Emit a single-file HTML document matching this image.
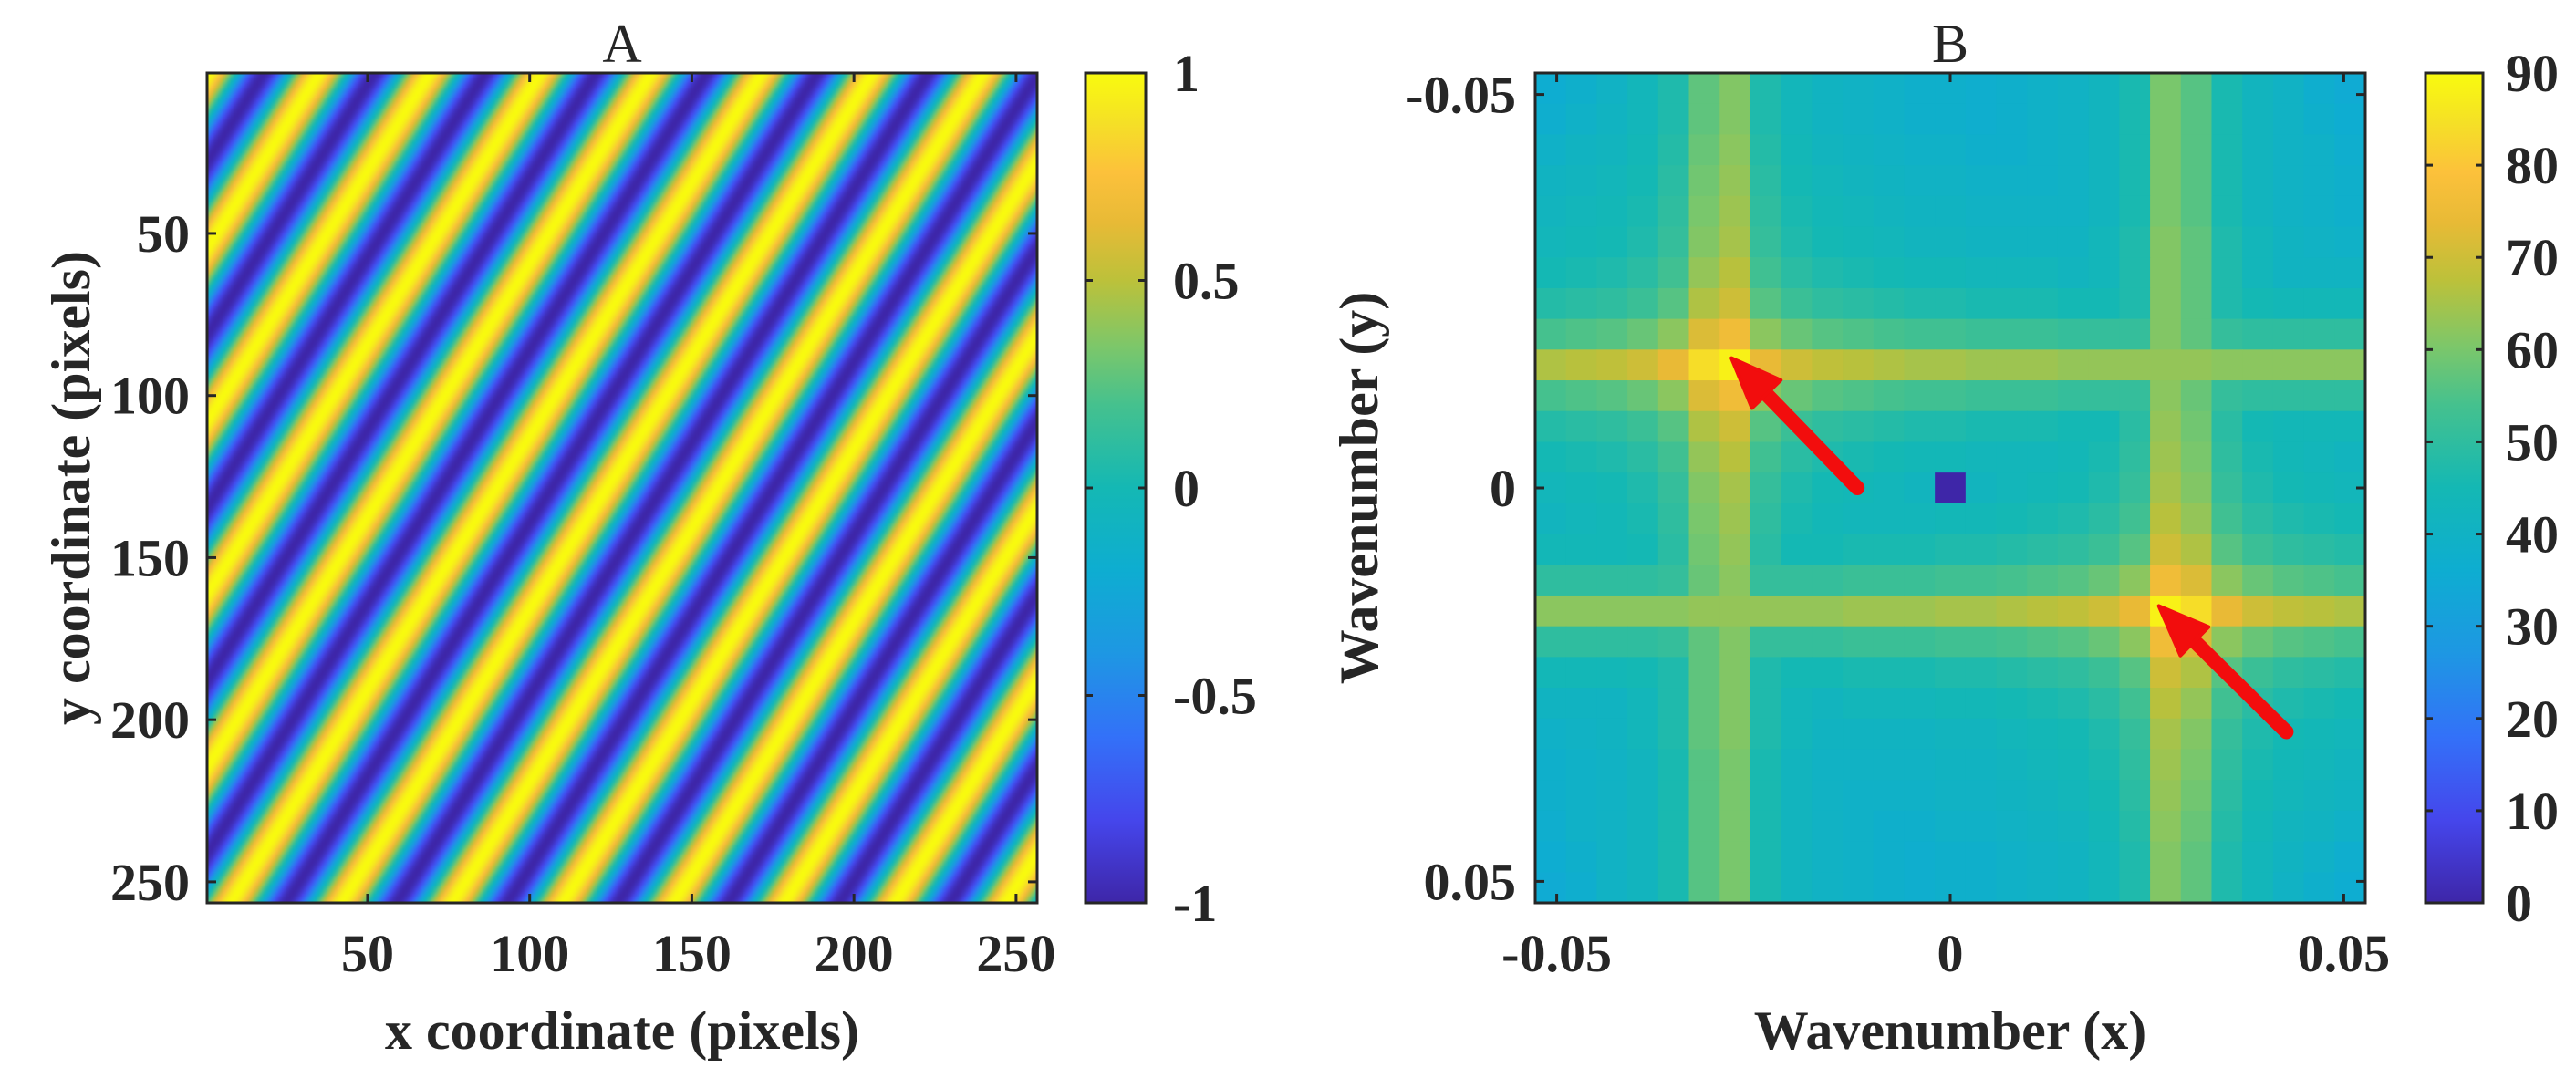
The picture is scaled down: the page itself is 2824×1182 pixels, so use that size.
<!DOCTYPE html>
<html><head><meta charset="utf-8"><style>
html,body{margin:0;padding:0;background:#fff;}
#wrap{position:relative;width:2824px;height:1182px;overflow:hidden;}
canvas{position:absolute;left:227px;top:80px;width:910px;height:910px;image-rendering:auto;}
svg{position:absolute;left:0;top:0;}
text{font-family:"Liberation Serif",serif;fill:#262626;}
</style></head><body>
<div id="wrap">
<canvas id="cA" width="256" height="256"></canvas>
<svg id="s" width="2824" height="1182" xmlns="http://www.w3.org/2000/svg"></svg>
</div>
<script>
// ---------- data ----------
const aFreqX = 7.5;      // cycles across 256 px
const aFreqY = 4.8;
const aPhase = -0.24;
const aTicks = [50,100,150,200,250];
const aCbTicks = [-1,-0.5,0,0.5,1];
const aCbLabels = ["-1","-0.5","0","0.5","1"];
const bTicks = [-0.05,0,0.05];
const bTickLabels = ["-0.05","0","0.05"];
const bCbTicks = [0,10,20,30,40,50,60,70,80,90];
const bRows = [
[36,38,40,43,47,57,61,47,43,41,40,39,38,38,37,38,39,40,42,46,60,56,46,42,40,37,35],
[37,39,41,43,47,57,61,47,43,41,40,39,38,38,37,38,39,40,42,46,60,56,46,42,40,38,36],
[39,41,42,44,48,58,62,48,44,42,41,40,39,39,38,38,39,40,42,46,60,56,46,42,40,39,37],
[41,42,43,45,49,59,63,49,45,43,42,41,40,40,39,39,39,40,42,46,60,56,46,42,40,39,38],
[42,43,44,46,50,60,64,50,46,44,43,42,41,41,40,40,40,40,42,46,60,56,46,42,40,39,38],
[43,44,45,47,51,61,65,51,47,45,44,43,42,42,41,41,41,41,43,47,61,57,47,43,41,40,39],
[45,46,47,49,53,63,67,53,49,47,46,45,44,44,43,43,43,42,43,47,61,57,47,43,41,41,41],
[48,49,50,52,56,66,70,56,52,50,49,48,47,47,46,46,46,45,45,47,61,57,47,45,44,44,44],
[54,55,56,58,62,72,76,62,58,56,55,54,53,53,52,52,52,51,51,51,61,57,51,50,50,50,50],
[66,67,68,70,74,84,88,74,70,68,67,66,65,65,64,64,64,63,63,63,63,63,62,62,62,62,62],
[54,55,56,58,62,72,76,62,58,56,55,54,53,53,52,52,52,51,51,51,62,58,51,50,50,50,50],
[48,49,50,52,56,66,70,56,52,50,49,48,47,47,46,46,46,45,45,49,63,59,49,45,44,44,44],
[45,46,47,49,53,63,67,53,49,47,46,45,44,44,43,43,43,44,46,50,64,60,50,46,44,43,42],
[43,44,45,47,51,61,65,51,47,45,44,43,42,0,42,43,44,45,47,51,65,61,51,47,45,44,43],
[42,43,44,46,50,60,64,50,46,44,43,43,43,44,44,45,46,47,49,53,67,63,53,49,47,46,45],
[44,44,44,45,49,59,63,49,45,45,46,46,46,47,47,48,49,50,52,56,70,66,56,52,50,49,48],
[50,50,50,50,51,58,62,51,51,51,52,52,52,53,53,54,55,56,58,62,76,72,62,58,56,55,54],
[62,62,62,62,62,63,63,63,63,63,64,64,64,65,65,66,67,68,70,74,88,84,74,70,68,67,66],
[50,50,50,50,51,57,61,51,51,51,52,52,52,53,53,54,55,56,58,62,76,72,62,58,56,55,54],
[44,44,44,45,47,57,61,47,45,45,46,46,46,47,47,48,49,50,52,56,70,66,56,52,50,49,48],
[41,41,41,43,47,57,61,47,43,42,43,43,43,44,44,45,46,47,49,53,67,63,53,49,47,46,45],
[39,40,41,43,47,57,61,47,43,41,41,41,41,42,42,43,44,45,47,51,65,61,51,47,45,44,43],
[38,39,40,42,46,56,60,46,42,40,40,40,40,41,41,42,43,44,46,50,64,60,50,46,44,43,42],
[38,39,40,42,46,56,60,46,42,40,39,39,39,40,40,41,42,43,45,49,63,59,49,45,43,42,41],
[37,39,40,42,46,56,60,46,42,40,39,38,38,39,39,40,41,42,44,48,62,58,48,44,42,41,39],
[36,38,40,42,46,56,60,46,42,40,39,38,37,38,38,39,40,41,43,47,61,57,47,43,41,39,37],
[35,37,40,42,46,56,60,46,42,40,39,38,37,38,38,39,40,41,43,47,61,57,47,43,40,38,36]
];
const arrowTailX = [-0.0118, 0.0427];
const arrowTailY = [0.0000, 0.0310];
const arrowTipX = [-0.0278, 0.0265];
const arrowTipY = [-0.0165, 0.0150];

// ---------- styling / colormap ----------
const cmStops = [0,0.1,0.2,0.3,0.4,0.5,0.6,0.67,0.75,0.82,0.88,0.94,1];
const cmCols = ["#3e26a8","#4546ec","#3371f8","#1e97e3","#0eadd1","#14b8b4","#45c18e","#7cc76a","#bcc13a","#e8ba36","#fcc13b","#f5e026","#f9fb0e"];
function hex(h){return [parseInt(h.substr(1,2),16),parseInt(h.substr(3,2),16),parseInt(h.substr(5,2),16)];}
const pr = cmCols.map(hex);
function cmap(t){t=Math.max(0,Math.min(1,t));let i=0;while(i<cmStops.length-2&&t>cmStops[i+1])i++;
 const f=(t-cmStops[i])/(cmStops[i+1]-cmStops[i]);
 return [0,1,2].map(k=>Math.round(pr[i][k]+(pr[i+1][k]-pr[i][k])*f));}
function rgb(c){return "rgb("+c[0]+","+c[1]+","+c[2]+")";}

const NS="http://www.w3.org/2000/svg";
const svg=document.getElementById('s');
function mk(tag,attrs,parent){const e=document.createElementNS(NS,tag);for(const k in attrs)e.setAttribute(k,attrs[k]);(parent||svg).appendChild(e);return e;}

const A={l:227,t:80,w:910,h:910};
const B={l:1683,t:80,w:910,h:910};
const axSx=v=>A.l+(v-0.5)/256*A.w;
const axSy=v=>A.t+(v-0.5)/256*A.h;
const bHalf=13.5/256;
const bxS=v=>B.l+(v+bHalf)/(2*bHalf)*B.w;
const byS=v=>B.t+(v+bHalf)/(2*bHalf)*B.h;

const defs=mk('defs',{});
const grad=mk('linearGradient',{id:'pg',x1:'0',y1:'1',x2:'0',y2:'0'},defs);
cmStops.forEach((s,i)=>mk('stop',{offset:s,'stop-color':cmCols[i]},grad));

// ---------- panel A image ----------
const ctx=document.getElementById('cA').getContext('2d');
const img=ctx.createImageData(256,256);
for(let y=1;y<=256;y++)for(let x=1;x<=256;x++){
 const v=Math.cos(2*Math.PI*(aFreqX*x+aFreqY*y)/256+aPhase);
 const c=cmap((v+1)/2);const o=((y-1)*256+(x-1))*4;
 img.data[o]=c[0];img.data[o+1]=c[1];img.data[o+2]=c[2];img.data[o+3]=255;}
ctx.putImageData(img,0,0);

const gA=mk('g',{});


const frA=mk('rect',{x:A.l,y:A.t,width:A.w,height:A.h,fill:'none',stroke:'#262626','stroke-width':3},gA);


aTicks.forEach(v=>{
 const x=axSx(v), y=axSy(v);
 mk('line',{x1:x,y1:A.t+A.h,x2:x,y2:A.t+A.h-10,stroke:'#262626','stroke-width':3},gA);
 mk('line',{x1:x,y1:A.t,x2:x,y2:A.t+10,stroke:'#262626','stroke-width':3},gA);
 mk('line',{x1:A.l,y1:y,x2:A.l+10,y2:y,stroke:'#262626','stroke-width':3},gA);
 mk('line',{x1:A.l+A.w,y1:y,x2:A.l+A.w-10,y2:y,stroke:'#262626','stroke-width':3},gA);
 const tx=mk('text',{x:x,y:1065,'text-anchor':'middle','font-size':58,'font-weight':'bold'},gA);tx.textContent=v;
 
 
 const ty=mk('text',{x:208,y:y+20,'text-anchor':'end','font-size':58,'font-weight':'bold'},gA);ty.textContent=v;
 
 
});
let t=mk('text',{x:A.l+A.w/2,y:68,'text-anchor':'middle','font-size':60},gA);t.textContent='A';


t=mk('text',{x:A.l+A.w/2,y:1150,'text-anchor':'middle','font-size':60,'font-weight':'bold'},gA);t.textContent='x coordinate (pixels)';


t=mk('text',{x:0,y:0,'text-anchor':'middle','font-size':60,'font-weight':'bold',transform:'translate(98,535) rotate(-90)'},gA);t.textContent='y coordinate (pixels)';



function colorbar(x,w,ticks,labels,vmin,vmax,lx,name){
 const g=mk('g',{});
 
 
 mk('rect',{x:x,y:A.t,width:w,height:A.h,fill:'url(#pg)',stroke:'#262626','stroke-width':3},g);
 ticks.forEach((v,i)=>{
  const y=A.t+A.h-(v-vmin)/(vmax-vmin)*A.h;
  mk('line',{x1:x,y1:y,x2:x+8,y2:y,stroke:'#262626','stroke-width':3},g);
  mk('line',{x1:x+w,y1:y,x2:x+w-8,y2:y,stroke:'#262626','stroke-width':3},g);
  const tl=mk('text',{x:lx,y:y+20,'font-size':58,'font-weight':'bold'},g);tl.textContent=labels[i];
  
  
 });
}
colorbar(1190,66,aCbTicks,aCbLabels,-1,1,1286,'colorbar-a');

// ---------- panel B ----------
const gB=mk('g',{});


const n=bRows.length, cw=B.w/n;
bRows.forEach((row,r)=>row.forEach((v,c)=>{
 const kx=(c-13)/256, ky=(r-13)/256;
 const x=bxS(kx)-cw/2, y=byS(ky)-cw/2;
 const cell=mk('rect',{x:x.toFixed(2),y:y.toFixed(2),width:(cw+0.6).toFixed(2),height:(cw+0.6).toFixed(2),fill:rgb(cmap(v/90))},gB);
 
 
}));
const frB=mk('rect',{x:B.l,y:B.t,width:B.w,height:B.h,fill:'none',stroke:'#262626','stroke-width':3},gB);


bTicks.forEach((v,i)=>{
 const x=bxS(v), y=byS(v);
 mk('line',{x1:x,y1:B.t+B.h,x2:x,y2:B.t+B.h-10,stroke:'#262626','stroke-width':3},gB);
 mk('line',{x1:x,y1:B.t,x2:x,y2:B.t+10,stroke:'#262626','stroke-width':3},gB);
 mk('line',{x1:B.l,y1:y,x2:B.l+10,y2:y,stroke:'#262626','stroke-width':3},gB);
 mk('line',{x1:B.l+B.w,y1:y,x2:B.l+B.w-10,y2:y,stroke:'#262626','stroke-width':3},gB);
 const tx=mk('text',{x:x,y:1065,'text-anchor':'middle','font-size':58,'font-weight':'bold'},gB);tx.textContent=bTickLabels[i];
 
 
 const ty=mk('text',{x:1662,y:y+20,'text-anchor':'end','font-size':58,'font-weight':'bold'},gB);ty.textContent=bTickLabels[i];
 
 
});
t=mk('text',{x:B.l+B.w/2,y:68,'text-anchor':'middle','font-size':60},gB);t.textContent='B';


t=mk('text',{x:B.l+B.w/2,y:1150,'text-anchor':'middle','font-size':60,'font-weight':'bold'},gB);t.textContent='Wavenumber (x)';


t=mk('text',{x:0,y:0,'text-anchor':'middle','font-size':60,'font-weight':'bold',transform:'translate(1510,535) rotate(-90)'},gB);t.textContent='Wavenumber (y)';



arrowTailX.forEach((_,i)=>{
 const x1=bxS(arrowTailX[i]), y1=byS(arrowTailY[i]), x2=bxS(arrowTipX[i]), y2=byS(arrowTipY[i]);
 const dx=x2-x1, dy=y2-y1, L=Math.hypot(dx,dy), ux=dx/L, uy=dy/L, px=-uy, py=ux;
 const hl=55, hw=22;
 const bx=x2-ux*hl, by=y2-uy*hl;
 const g=mk('g',{},gB);
 
 
 mk('line',{x1:x1,y1:y1,x2:bx+ux*5,y2:by+uy*5,stroke:'#f20d0d','stroke-width':16,'stroke-linecap':'round'},g);
 mk('polygon',{points:`${x2},${y2} ${bx+px*hw},${by+py*hw} ${bx-px*hw},${by-py*hw}`,fill:'#f20d0d','stroke':'#f20d0d','stroke-width':4,'stroke-linejoin':'round'},g);
});

colorbar(2659,63,bCbTicks,bCbTicks.map(String),0,90,2747,'colorbar-b');
</script>
</body></html>
